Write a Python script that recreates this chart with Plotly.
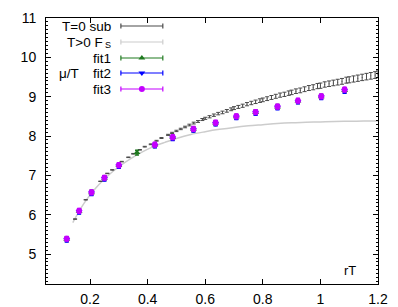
import plotly.graph_objects as go

# ---------------- data ----------------
t0_x = [0.148, 0.185, 0.236, 0.260, 0.277, 0.310, 0.333, 0.350, 0.373, 0.390, 0.411, 0.431, 0.448, 0.471,
        0.485, 0.500, 0.515, 0.530, 0.545, 0.560, 0.575, 0.590, 0.600, 0.615, 0.630, 0.645, 0.660, 0.675,
        0.690, 0.700, 0.715, 0.730, 0.745, 0.760, 0.775, 0.790, 0.800, 0.815, 0.830, 0.845, 0.860, 0.875,
        0.890, 0.900, 0.915, 0.930, 0.945, 0.960, 0.975, 0.990, 1.000, 1.015, 1.030, 1.045, 1.060, 1.075,
        1.090, 1.100, 1.115, 1.130, 1.145, 1.160, 1.175, 1.190, 1.200]
t0_y = [5.89, 6.38, 6.85, 7.05, 7.14, 7.35, 7.46, 7.55, 7.65, 7.73, 7.79, 7.88, 7.95, 8.03,
        8.08, 8.13, 8.18, 8.23, 8.28, 8.33, 8.37, 8.42, 8.45, 8.49, 8.53, 8.57, 8.60, 8.64,
        8.68, 8.71, 8.74, 8.77, 8.81, 8.84, 8.87, 8.90, 8.92, 8.95, 8.98, 9.01, 9.04, 9.06,
        9.09, 9.11, 9.14, 9.16, 9.19, 9.22, 9.24, 9.27, 9.28, 9.31, 9.33, 9.35, 9.37, 9.39,
        9.42, 9.43, 9.45, 9.47, 9.49, 9.51, 9.53, 9.55, 9.57]
t0_err = [0.005, 0.005, 0.005, 0.006, 0.006, 0.007, 0.007, 0.008, 0.008, 0.009, 0.010, 0.011, 0.012, 0.014,
          0.015, 0.017, 0.018, 0.020, 0.021, 0.023, 0.024, 0.026, 0.027, 0.028, 0.030, 0.031, 0.033, 0.034,
          0.036, 0.037, 0.038, 0.040, 0.041, 0.043, 0.044, 0.046, 0.047, 0.048, 0.050, 0.051, 0.053, 0.054,
          0.056, 0.057, 0.058, 0.060, 0.061, 0.063, 0.064, 0.066, 0.067, 0.068, 0.070, 0.071, 0.073, 0.074,
          0.076, 0.077, 0.078, 0.080, 0.081, 0.083, 0.084, 0.086, 0.087]

fs_x = [0.14, 0.18, 0.22, 0.26, 0.30, 0.34, 0.38, 0.42, 0.46, 0.50, 0.55, 0.60, 0.65, 0.70, 0.75,
        0.80, 0.85, 0.90, 0.95, 1.00, 1.05, 1.10, 1.15, 1.20]
fs_y = [5.80, 6.30, 6.68, 6.98, 7.22, 7.42, 7.59, 7.73, 7.84, 7.94, 8.04, 8.11, 8.17, 8.22, 8.26,
        8.29, 8.32, 8.34, 8.35, 8.36, 8.37, 8.375, 8.38, 8.385]

fit1_x = [0.119, 0.162, 0.205, 0.250, 0.300, 0.363, 0.425, 0.487, 0.559, 0.636, 0.708, 0.775, 0.851, 0.922, 1.003, 1.084]
fit1_y = [5.38, 6.09, 6.56, 6.93, 7.25, 7.58, 7.77, 7.96, 8.17, 8.33, 8.49, 8.60, 8.74, 8.89, 9.00, 9.16]
fit2_x = [0.119, 0.162, 0.205, 0.250, 0.300, 0.425, 0.487, 0.559, 0.636, 0.708, 0.775, 0.851, 0.922, 1.003, 1.084]
fit2_y = [5.37, 6.08, 6.55, 6.92, 7.24, 7.76, 7.95, 8.16, 8.32, 8.48, 8.59, 8.73, 8.88, 8.99, 9.15]
fit3_x = [0.119, 0.162, 0.205, 0.250, 0.300, 0.425, 0.487, 0.559, 0.636, 0.708, 0.775, 0.851, 0.922, 1.003, 1.084]
fit3_y = [5.39, 6.10, 6.57, 6.94, 7.26, 7.78, 7.97, 8.18, 8.34, 8.50, 8.61, 8.75, 8.90, 9.01, 9.18]
fit_err = 0.06

legend_labels = ["T=0 sub", "T>0 F", "fit1", "fit2", "fit3"]
legend_sub = "S"
ylabel = "\u03bc/T"
xlabel = "rT"

C_T0 = "#4a4a4a"
C_FS = "#cccccc"
C_F1 = "#1f7a1f"
C_F2 = "#0000ff"
C_F3 = "#c400ff"

FONT = "Liberation Sans, Arial, sans-serif"

fig = go.Figure()

fig.add_trace(go.Scatter(x=fs_x, y=fs_y, mode="lines", line=dict(color=C_FS, width=1.5, shape="spline"),
                         showlegend=False, hoverinfo="skip"))
fig.add_trace(go.Scatter(x=t0_x, y=t0_y, mode="markers", marker=dict(size=1, color=C_T0),
                         error_y=dict(type="data", array=t0_err, color=C_T0, thickness=1, width=2),
                         showlegend=False))
for xs, ys, col, sym in [(fit1_x, fit1_y, C_F1, "triangle-up"),
                         (fit2_x, fit2_y, C_F2, "triangle-down"),
                         (fit3_x, fit3_y, C_F3, "circle")]:
    fig.add_trace(go.Scatter(x=xs, y=ys, mode="markers",
                             marker=dict(size=6, color=col, symbol=sym, line=dict(width=0)),
                             error_y=dict(type="constant", value=fit_err, color=col, thickness=1.5, width=2),
                             showlegend=False))

# ---------- manual gnuplot-style key (pixel coordinates on overlay axes) ----------
L, R, T, B = 46, 378.5, 18, 284
key_y = [26, 42, 58, 73, 89]
key_cols = [C_T0, C_FS, C_F1, C_F2, C_F3]
key_sym = [None, None, "triangle-up", "triangle-down", "circle"]
key_right = [112, 104, 112, 112, 112]
x0s, x1s = 121, 163
for ky, col, sym in zip(key_y, key_cols, key_sym):
    fig.add_trace(go.Scatter(x=[x0s, x1s], y=[ky, ky], mode="lines", line=dict(color=col, width=1.2),
                             xaxis="x2", yaxis="y2", showlegend=False, hoverinfo="skip"))
    for xe in (x0s, x1s):
        fig.add_shape(type="line", xref="x2", yref="y2", x0=xe, x1=xe, y0=ky - 2.5, y1=ky + 2.5,
                      line=dict(color=col, width=1.2))
    if sym:
        fig.add_trace(go.Scatter(x=[(x0s + x1s) / 2], y=[ky], mode="markers",
                                 marker=dict(size=6, color=col, symbol=sym),
                                 xaxis="x2", yaxis="y2", showlegend=False, hoverinfo="skip"))
for ky, kx, lab in zip(key_y, key_right, legend_labels):
    fig.add_annotation(x=kx, y=ky, xref="x2", yref="y2", text=lab, showarrow=False, borderpad=0,
                       xanchor="right", yanchor="middle", font=dict(family=FONT, size=13.5, color="black"))
fig.add_annotation(x=104, y=44.5, xref="x2", yref="y2", text=legend_sub, showarrow=False, borderpad=0,
                   xanchor="left", yanchor="middle", font=dict(family=FONT, size=9, color="black"))

fig.add_annotation(x=69, y=73, xref="x2", yref="y2", text=ylabel, showarrow=False,
                   xanchor="center", yanchor="middle", font=dict(family=FONT, size=13.5, color="black"))
fig.add_annotation(x=350, y=270, xref="x2", yref="y2", text=xlabel, showarrow=False,
                   xanchor="center", yanchor="middle", font=dict(family=FONT, size=13, color="black"))

fig.update_layout(
    width=398, height=307,
    margin=dict(l=L, r=398 - R, t=T, b=307 - B),
    paper_bgcolor="white", plot_bgcolor="white",
    font=dict(family=FONT, size=14, color="black"),
    xaxis=dict(range=[0.047, 1.2], dtick=0.2, tick0=0, ticks="inside", ticklen=5, tickcolor="black",
               showgrid=False, zeroline=False, showline=True, linecolor="black", linewidth=1,
               mirror="allticks", ticklabelstandoff=2, automargin=False),
    yaxis=dict(range=[4.24, 11], dtick=1, tick0=0, ticks="inside", ticklen=5, tickcolor="black",
               showgrid=False, zeroline=False, showline=True, linecolor="black", linewidth=1,
               mirror="allticks", ticklabelstandoff=6, automargin=False,
               minor=dict(dtick=0.1, ticks="inside", ticklen=2, tickcolor="black", showgrid=False)),
    xaxis2=dict(range=[L, R], overlaying="x", visible=False, fixedrange=True, automargin=False),
    yaxis2=dict(range=[B, T], overlaying="y", visible=False, fixedrange=True, automargin=False),
)

fig.write_html("out.html", config={"displayModeBar": False},
               post_script="document.body.style.margin='0';document.body.style.overflow='hidden';")
